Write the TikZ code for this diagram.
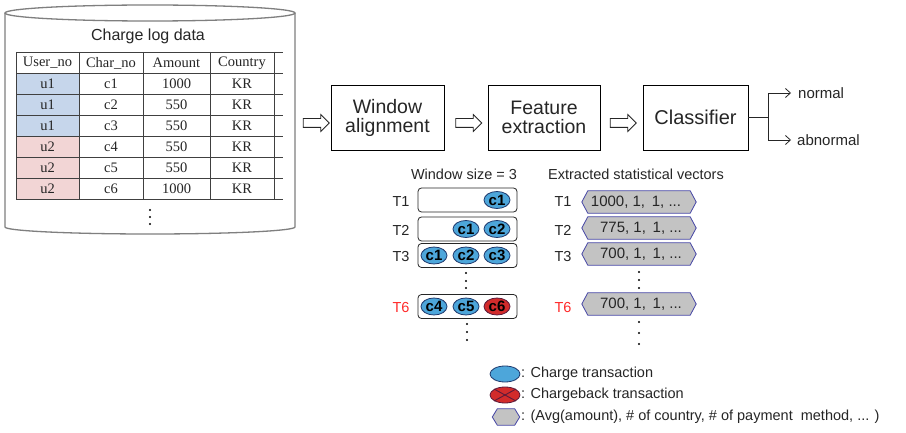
\documentclass[tikz,border=0pt]{standalone}
\usepackage{fontspec}
\setmainfont{Liberation Sans}
\newfontfamily\tmsfont{Liberation Serif}
\usetikzlibrary{shapes.geometric,shapes.arrows,arrows.meta,backgrounds}
\definecolor{cylgray}{HTML}{7F7F7F}
\definecolor{tabline}{HTML}{404040}
\definecolor{ublue}{HTML}{C6D6EB}
\definecolor{upink}{HTML}{F2D5D5}
\definecolor{chfill}{HTML}{4DA6DA}
\definecolor{chline}{HTML}{1F3A6E}
\definecolor{cbfill}{HTML}{D22B2B}
\definecolor{cbline}{HTML}{5A1A3A}
\definecolor{vecfill}{HTML}{C3C3C3}
\definecolor{vecline}{HTML}{4545A5}
\definecolor{tred}{HTML}{FF2A2A}
\definecolor{txt}{HTML}{262626}
\tikzset{
  fs/.style={font=\fontsize{#1}{#1}\selectfont},
  cyl/.style={draw=cylgray, line width=1.3pt},
  tab/.style={draw=tabline, line width=0.8pt},
  cell/.style={font=\tmsfont\fontsize{14.5}{14.5}\selectfont, text=txt, inner sep=0pt},
  stepbox/.style={draw=black, line width=0.8pt, fill=white, minimum height=65pt, align=center, fs=19.5, text=txt},
  blockarrow/.style={single arrow, draw=txt, line width=0.8pt, fill=white, minimum height=26pt, minimum width=16pt, single arrow head extend=4pt, inner xsep=0pt, inner ysep=4pt, single arrow tip angle=90},
  winbox/.style={draw=txt, line width=0.8pt, rounded corners=3.5pt, minimum width=99pt, minimum height=24pt},
  charge/.style={ellipse, draw=chline, line width=0.8pt, fill=chfill, minimum width=26pt, minimum height=17pt, inner sep=0pt, font=\bfseries\fontsize{15}{15}\selectfont},
  chargeback/.style={charge, fill=cbfill, draw=cbline},
  tlabel/.style={fs=14.5, text=txt},
  vecbox/.style={minimum width=114pt, minimum height=22pt, inner sep=0pt, fs=15, text=txt},
  vecline/.style={draw=vecline, fill=vecfill, line width=0.8pt},
  dotm/.style={fill=black, circle, inner sep=0pt, minimum size=2.4pt},
  barb/.style={-{Straight Barb[length=5pt,width=9pt]}, line width=0.8pt, draw=txt},
}
\newcommand\hexaround[2]{%
  \path[vecline] (#1.west) -- ([xshift=#2]#1.north west) -- ([xshift=-#2]#1.north east) -- (#1.east) -- ([xshift=-#2]#1.south east) -- ([xshift=#2]#1.south west) -- cycle;}
\begin{document}
\begin{tikzpicture}[x=1pt,y=-1pt]
\useasboundingbox (0,0) rectangle (906,433);
\fill[white] (0,0) rectangle (906,433);

% cylinder
\draw[cyl] (5,13) -- (5,227) arc[start angle=180, end angle=360, x radius=145pt, y radius=7pt] -- (295,13);
\draw[cyl] (150,13) ellipse [x radius=145pt, y radius=8pt];
\node[fs=16, text=txt] (title) at (148,36) {Charge log data};

% table
\fill[ublue] (16,73) rectangle (79,136);
\fill[upink] (16,136) rectangle (79,199);
\foreach \yy in {52,73,94,115,136,157,178,199} \draw[tab] (16,\yy) -- (283,\yy);
\foreach \xx in {16,79,143,210,274} \draw[tab] (\xx,52) -- (\xx,199);
\node[cell] (h1) at (47.5,63) {User\_no};
\node[cell] (h2) at (111,63) {Char\_no};
\node[cell] (h3) at (176.5,63) {Amount};
\node[cell] (h4) at (242,63) {Country};
\foreach \u/\c/\a [count=\i] in {u1/c1/1000,u1/c2/550,u1/c3/550,u2/c4/550,u2/c5/550,u2/c6/1000}{
  \pgfmathsetmacro\yc{62.5+21*\i}
  \node[cell] (r\i c1) at (47.5,\yc) {\u};
  \node[cell] (r\i c2) at (111,\yc) {\c};
  \node[cell] (r\i c3) at (176.5,\yc) {\a};
  \node[cell] (r\i c4) at (242,\yc) {KR};
}
\node[dotm] (td1) at (150,210) {};
\node[dotm] (td2) at (150,217) {};
\node[dotm] (td3) at (150,224) {};

% pipeline
\node[blockarrow] (a0) at (314,123) {};
\node[stepbox, minimum width=113pt] (wa) at (387.5,118) {Window\\alignment};
\node[blockarrow] (a1) at (466.5,123) {};
\node[stepbox, minimum width=112pt] (fe) at (544,117.5) {Feature\\extraction};
\node[blockarrow] (a2) at (621,123) {};
\node[stepbox, minimum width=105pt, fs=20] (cl) at (695.5,117.5) {Classifier};
\coordinate (br) at (768,117.5);
\node[fs=15, text=txt, anchor=west, inner sep=0pt] (nrm) at (798,93) {normal};
\node[fs=15, text=txt, anchor=west, inner sep=0pt] (abn) at (797,140) {abnormal};
\draw[line width=0.8pt, draw=txt] (cl.east) -- (br);
\draw[barb] (br) |- ([xshift=-7pt]nrm.west);
\draw[barb] (br) |- ([xshift=-6pt]abn.west);

% window section
\node[fs=14.5, text=txt] (wsz) at (464,174) {Window size = 3};
\node[fs=14.5, text=txt] (esv) at (636,174) {Extracted statistical vectors};

\node[winbox] (w1) at (467.5,200) {};
\node[winbox] (w2) at (467.5,229) {};
\node[winbox] (w3) at (467.5,255.5) {};
\node[winbox] (w6) at (467.5,306.5) {};
\node[tlabel] (lw1) at (401,202) {T1};
\node[tlabel] (lw2) at (401,230) {T2};
\node[tlabel] (lw3) at (401,257) {T3};
\node[tlabel, text=tred] (lw6) at (401,308) {T6};

\node[charge] (e11) at (497,200) {c1};
\node[charge] (e21) at (466,229) {c1};
\node[charge] (e22) at (497,229) {c2};
\node[charge] (e31) at (434,255.5) {c1};
\node[charge] (e32) at (466,255.5) {c2};
\node[charge] (e33) at (497,255.5) {c3};
\node[charge] (e64) at (434,306.5) {c4};
\node[charge] (e65) at (466,306.5) {c5};
\node[chargeback] (e66) at (497,306.5) {c6};

\node[dotm] (wd1) at (466,273) {};
\node[dotm] (wd2) at (466,281) {};
\node[dotm] (wd3) at (466,288) {};
\node[dotm] (wd4) at (467,324) {};
\node[dotm] (wd5) at (467,332) {};
\node[dotm] (wd6) at (467,340) {};

% vectors
\node[vecbox] (v1) at (639,202) {};
\node[vecbox] (v2) at (639,228) {};
\node[vecbox] (v3) at (639,254) {};
\node[vecbox] (v6) at (639,304) {};
\hexaround{v1}{6pt}\hexaround{v2}{6pt}\hexaround{v3}{6pt}\hexaround{v6}{6pt}
\node[fs=15, text=txt] (vt1) at (636,202) {1000, 1,\, 1, ...};
\node[fs=15, text=txt] (vt2) at (641,228) {775, 1,\, 1, ...};
\node[fs=15, text=txt] (vt3) at (641,254) {700, 1,\, 1, ...};
\node[fs=15, text=txt] (vt6) at (641,304) {700, 1,\, 1, ...};
\node[tlabel] (lv1) at (563,202) {T1};
\node[tlabel] (lv2) at (563,230) {T2};
\node[tlabel] (lv3) at (563,257) {T3};
\node[tlabel, text=tred] (lv6) at (563,308) {T6};
\node[dotm] (vd1) at (639,272) {};
\node[dotm] (vd2) at (639,280) {};
\node[dotm] (vd3) at (639,288) {};
\node[dotm] (vd4) at (639,322) {};
\node[dotm] (vd5) at (639,333) {};
\node[dotm] (vd6) at (639,344) {};

% legend
\node[charge, minimum width=30pt, minimum height=16pt] (lg1) at (505,374) {};
\node[chargeback, minimum width=30pt, minimum height=16pt] (lg2) at (505,395) {};
\draw[draw=cbline, line width=0.9pt] (lg2.north east) -- (lg2.south west) (lg2.north west) -- (lg2.south east);
\node[vecbox, minimum width=27pt, minimum height=16pt] (lg3) at (506,417) {};
\hexaround{lg3}{5pt}
\node[fs=14.5, text=txt, anchor=west, inner sep=0pt] (lt1) at (521,374) {: Charge transaction};
\node[fs=14.5, text=txt, anchor=west, inner sep=0pt] (lt2) at (521,395) {: Chargeback transaction};
\node[fs=14.5, text=txt, anchor=west, inner sep=0pt] (lt3) at (521,417) {: (Avg(amount), \# of country, \# of payment\ \ method, ... )};
\end{tikzpicture}
\end{document}
